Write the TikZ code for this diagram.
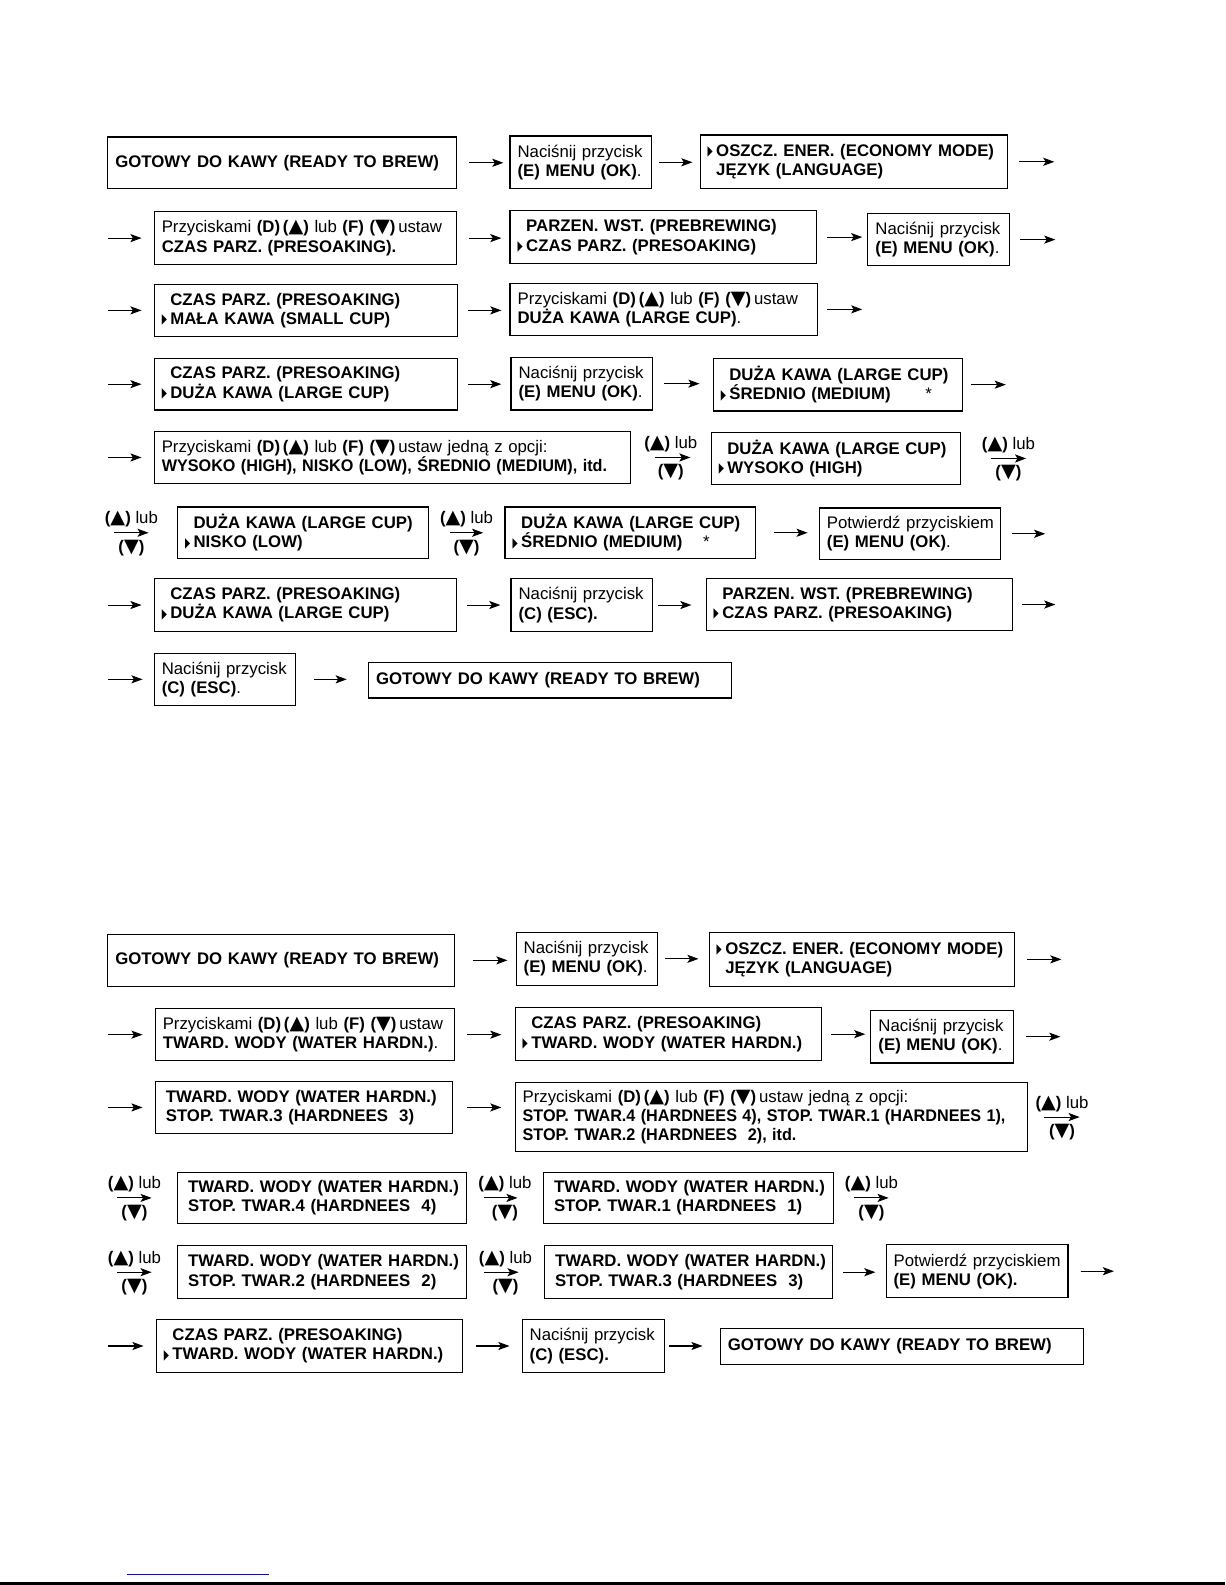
\documentclass[tikz,border=0pt]{standalone}
\usepackage{fontspec}
\setmainfont{Liberation Sans}
\newfontfamily\symf{DejaVu Sans}
\usetikzlibrary{arrows.meta,calc}
\newcommand\myfs{\fontsize{16.6}{19}\selectfont}
\newcommand\myup{{\symf\fontsize{19}{19}\selectfont ▲}}
\newcommand\mydn{{\symf\fontsize{19}{19}\selectfont ▼}}
\newcommand\mymk{\makebox[8.5pt][l]{\raisebox{0.6pt}{\scalebox{0.4}[0.82]{\symf ▶}}}}
\newcommand\mynm{\hspace*{8.5pt}}
\newcommand\mytw{\hspace*{3pt}}
\newcommand\ml[1]{\mbox{#1}}
\newcommand\myPrz{Przyciskami \textbf{(D)}\,\textbf{(\myup)} lub \textbf{(F)} \textbf{(\mydn)}\,ustaw}
\newcommand\Bx[6]{\pgfmathsetmacro\bw{#4-#2-15}\pgfmathsetmacro\bh{#5-#3}%
  \node[bx, text width=\bw pt, minimum height=\bh pt] (#1) at (#2,#3) {#6};}
\newcommand\Ar[4]{\draw[arr, shorten <=#3pt, shorten >=#4pt] (#1.east) -- (#1.east -| #2.west);}
\newcommand\Sa[3]{\draw[arr, shorten >=#3pt] (#1 |- #2.west) -- (#2.west);}
\newcommand\Ea[3]{\draw[arr, shorten <=#3pt] (#1.east) -- (#1.east -| #2);}
\tikzset{
  bx/.style={draw, line width=1.1pt, anchor=north west, inner xsep=7.5pt, inner ysep=0pt, align=left, font=\myfs},
  arr/.style={line width=1pt, -{Stealth[length=11pt,width=8pt,inset=2.5pt]}},
  lab/.style={font=\myfs, inner sep=0pt},
  lup/.style={midway, above=5pt, lab},
  ldn/.style={midway, below=6.5pt, lab}
}
\hbadness=10000 \hfuzz=100pt
\begin{document}
\begin{tikzpicture}[x=1pt,y=-1pt]
\fill[white] (0,0) rectangle (1212,1568);
\useasboundingbox (0,0) rectangle (1212,1568);
% ---------- start / end coordinates ----------
\coordinate (sx) at (107,0);
\coordinate (e1) at (1043,0);
\coordinate (e2) at (1044,0);
\coordinate (e3) at (853,0);
\coordinate (e4) at (995,0);
\coordinate (e6) at (1034,0);
\coordinate (e7) at (1044,0);
\coordinate (f1) at (1050,0);
\coordinate (f2) at (1049,0);
\coordinate (f5) at (1102,0);
% ================= TOP SECTION =================
% row 1
\Bx{b1}{106}{135}{451}{186}{\ml{\textbf{GOTOWY DO KAWY (READY TO BREW)}}}
\Bx{b2}{504}{134}{644}{186}{\ml{Naciśnij przycisk}\\\ml{\textbf{(E) MENU (OK)}.}}
\Bx{b3}{692}{133}{996}{186}{\ml{\mymk\textbf{OSZCZ. ENER. (ECONOMY MODE)}}\\\ml{\mynm\textbf{JĘZYK (LANGUAGE)}}}
\Ar{b1}{b2}{12}{6}
\Ar{b2}{b3}{7}{7}
\Ea{b3}{e1}{11}
% row 2
\Bx{b4}{152}{209}{451}{261}{\ml{\myPrz}\\\ml{\textbf{CZAS PARZ. (PRESOAKING).}}}
\Bx{b5}{504}{208}{807}{260}{\ml{\mynm\textbf{PARZEN. WST. (PREBREWING)}}\\\ml{\mymk\textbf{CZAS PARZ. (PRESOAKING)}}}
\Bx{b6}{858}{211}{998}{262}{\ml{Naciśnij przycisk}\\\ml{\textbf{(E) MENU (OK)}.}}
\Sa{sx}{b4}{12}
\Ar{b4}{b5}{12}{8}
\Ar{b5}{b6}{10}{5}
\Ea{b6}{e2}{10}
% row 3
\Bx{b7}{152}{281}{452}{332}{\ml{\mynm\textbf{CZAS PARZ. (PRESOAKING)}}\\\ml{\mymk\textbf{MAŁA KAWA (SMALL CUP)}}}
\Bx{b8}{504}{280}{808}{331}{\ml{\myPrz}\\\ml{\textbf{DUŻA KAWA (LARGE CUP)}.}}
\Sa{sx}{b7}{12}
\Ar{b7}{b8}{10}{8}
\Ea{b8}{e3}{9}
% row 4
\Bx{b9}{152}{354}{452}{405}{\ml{\mynm\textbf{CZAS PARZ. (PRESOAKING)}}\\\ml{\mymk\textbf{DUŻA KAWA (LARGE CUP)}}}
\Bx{b10}{505}{353}{645}{405}{\ml{Naciśnij przycisk}\\\ml{\textbf{(E) MENU (OK)}.}}
\Bx{b11}{705}{354}{952}{406}{\ml{\mynm\textbf{DUŻA KAWA (LARGE CUP)}}\\\ml{\mymk\makebox[194pt][l]{\textbf{ŚREDNIO (MEDIUM)}}*}}
\Sa{sx}{b9}{12}
\Ar{b9}{b10}{10}{9}
\Ar{b10}{b11}{11}{13}
\Ea{b11}{e4}{7}
% row 5
\Bx{b12}{152}{426}{623}{478}{\ml{\myPrz\ jedną z opcji:}\\\ml{\scalebox{0.965}[1]{\textbf{WYSOKO (HIGH), NISKO (LOW), ŚREDNIO (MEDIUM), itd.}}}}
\Bx{b13}{703}{427}{950}{479}{\ml{\mynm\textbf{DUŻA KAWA (LARGE CUP)}}\\\ml{\mymk\textbf{WYSOKO (HIGH)}}}
\Sa{sx}{b12}{12}
\draw[arr, shorten <=24pt, shorten >=20pt] (b12.east) -- (b12.east -| b13.west)
  node[lup]{\textbf{(\myup)} lub} node[ldn]{\textbf{(\mydn)}};
\draw[arr] ($(b13.east)+(29,0)$) -- ($(b13.east)+(64,0)$)
  node[lup]{\textbf{(\myup)} lub} node[ldn]{\textbf{(\mydn)}};
% row 6
\Bx{b14}{175}{501}{423}{552}{\ml{\mynm\textbf{DUŻA KAWA (LARGE CUP)}}\\\ml{\mymk\textbf{NISKO (LOW)}}}
\Bx{b15}{499}{501}{747}{552}{\ml{\mynm\textbf{DUŻA KAWA (LARGE CUP)}}\\\ml{\mymk\makebox[180pt][l]{\textbf{ŚREDNIO (MEDIUM)}}*}}
\Bx{b16}{810}{502}{989}{553}{\ml{Potwierdź przyciskiem}\\\ml{\textbf{(E) MENU (OK)}.}}
\draw[arr] ($(b14.west)+(-62,0)$) -- ($(b14.west)+(-28,0)$)
  node[lup]{\textbf{(\myup)} lub} node[ldn]{\textbf{(\mydn)}};
\draw[arr, shorten <=21pt, shorten >=21pt] (b14.east) -- (b14.east -| b15.west)
  node[lup]{\textbf{(\myup)} lub} node[ldn]{\textbf{(\mydn)}};
\Ar{b15}{b16}{18}{11}
\Ea{b16}{e6}{11}
% row 7
\Bx{b17}{152}{572}{451}{624}{\ml{\mynm\textbf{CZAS PARZ. (PRESOAKING)}}\\\ml{\mymk\textbf{DUŻA KAWA (LARGE CUP)}}}
\Bx{b18}{505}{572}{645}{624}{\ml{Naciśnij przycisk}\\\ml{\textbf{(C) (ESC).}}}
\Bx{b19}{698}{572}{1001}{623}{\ml{\mynm\textbf{PARZEN. WST. (PREBREWING)}}\\\ml{\mymk\textbf{CZAS PARZ. (PRESOAKING)}}}
\Sa{sx}{b17}{12}
\Ar{b17}{b18}{10}{10}
\Ar{b18}{b19}{5}{14}
\Ea{b19}{e7}{9}
% row 8
\Bx{b20}{152}{646}{292}{697}{\ml{Naciśnij przycisk}\\\ml{\textbf{(C) (ESC)}.}}
\Bx{b21}{364}{655}{723}{690}{\ml{\textbf{GOTOWY DO KAWY (READY TO BREW)}}}
\Sa{sx}{b20}{11}
\Ar{b20}{b21}{18}{21}
% ================= BOTTOM SECTION =================
% row 1
\Bx{c1}{106}{924}{449}{975}{\ml{\textbf{GOTOWY DO KAWY (READY TO BREW)}}}
\Bx{c2}{510}{922}{650}{974}{\ml{Naciśnij przycisk}\\\ml{\textbf{(E) MENU (OK)}.}}
\Bx{c3}{701}{922}{1003}{975}{\ml{\mymk\textbf{OSZCZ. ENER. (ECONOMY MODE)}}\\\ml{\mynm\textbf{JĘZYK (LANGUAGE)}}}
\Ar{c1}{c2}{18}{8}
\Ar{c2}{c3}{7}{10}
\Ea{c3}{f1}{12}
% row 2
\Bx{c4}{153}{997}{449}{1049}{\ml{\myPrz}\\\ml{\textbf{TWARD. WODY (WATER HARDN.)}.}}
\Bx{c5}{509}{996}{812}{1049}{\ml{\mynm\textbf{CZAS PARZ. (PRESOAKING)}}\\\ml{\mymk\textbf{TWARD. WODY (WATER HARDN.)}}}
\Bx{c6}{861}{999}{1002}{1051}{\ml{Naciśnij przycisk}\\\ml{\textbf{(E) MENU (OK)}.}}
\Sa{sx}{c4}{12}
\Ar{c4}{c5}{12}{13}
\Ar{c5}{c6}{9}{5}
\Ea{c6}{f2}{12}
% row 3
\Bx{c7}{153}{1069}{447}{1121}{\ml{\mytw\textbf{TWARD. WODY (WATER HARDN.)}}\\\ml{\mytw\textbf{STOP. TWAR.3 (HARDNEES\ \ 3)}}}
\Bx{c8}{509}{1070}{1016}{1139}{\ml{\myPrz\ jedną z opcji:}\\\ml{\scalebox{0.965}[1]{\textbf{STOP. TWAR.4 (HARDNEES 4), STOP. TWAR.1 (HARDNEES 1),}}}\\\ml{\scalebox{0.965}[1]{\textbf{STOP. TWAR.2 (HARDNEES\ \ 2), itd.}}}}
\Sa{sx}{c7}{12}
\Ar{c7}{c8}{14}{13}
\draw[arr] ($(c8.east)+(16,0)$) -- ($(c8.east)+(51,0)$)
  node[lup]{\textbf{(\myup)} lub} node[ldn]{\textbf{(\mydn)}};
% row 4
\Bx{c9}{175}{1159}{461}{1210}{\ml{\mytw\textbf{TWARD. WODY (WATER HARDN.)}}\\\ml{\mytw\textbf{STOP. TWAR.4 (HARDNEES\ \ 4)}}}
\Bx{c10}{537}{1159}{824}{1210}{\ml{\mytw\textbf{TWARD. WODY (WATER HARDN.)}}\\\ml{\mytw\textbf{STOP. TWAR.1 (HARDNEES\ \ 1)}}}
\draw[arr] ($(c9.west)+(-59,0)$) -- ($(c9.west)+(-25,0)$)
  node[lup]{\textbf{(\myup)} lub} node[ldn]{\textbf{(\mydn)}};
\draw[arr, shorten <=17pt, shorten >=25pt] (c9.east) -- (c9.east -| c10.west)
  node[lup]{\textbf{(\myup)} lub} node[ldn]{\textbf{(\mydn)}};
\draw[arr] ($(c10.east)+(20,0)$) -- ($(c10.east)+(54,0)$)
  node[lup]{\textbf{(\myup)} lub} node[ldn]{\textbf{(\mydn)}};
% row 5
\Bx{c11}{175}{1232}{461}{1284}{\ml{\mytw\textbf{TWARD. WODY (WATER HARDN.)}}\\\ml{\mytw\textbf{STOP. TWAR.2 (HARDNEES\ \ 2)}}}
\Bx{c12}{538}{1232}{823}{1284}{\ml{\mytw\textbf{TWARD. WODY (WATER HARDN.)}}\\\ml{\mytw\textbf{STOP. TWAR.3 (HARDNEES\ \ 3)}}}
\Bx{c13}{876}{1231}{1056}{1283}{\ml{Potwierdź przyciskiem}\\\ml{\textbf{(E) MENU (OK).}}}
\draw[arr] ($(c11.west)+(-59,0)$) -- ($(c11.west)+(-25,0)$)
  node[lup]{\textbf{(\myup)} lub} node[ldn]{\textbf{(\mydn)}};
\draw[arr, shorten <=17pt, shorten >=25pt] (c11.east) -- (c11.east -| c12.west)
  node[lup]{\textbf{(\myup)} lub} node[ldn]{\textbf{(\mydn)}};
\Ar{c12}{c13}{10}{10}
\Ea{c13}{f5}{12}
% row 6
\Bx{c14}{154}{1305}{457}{1357}{\ml{\mynm\textbf{CZAS PARZ. (PRESOAKING)}}\\\ml{\mymk\textbf{TWARD. WODY (WATER HARDN.)}}}
\Bx{c15}{516}{1305}{657}{1357}{\ml{Naciśnij przycisk}\\\ml{\textbf{(C) (ESC).}}}
\Bx{c16}{712}{1314}{1071}{1349}{\ml{\textbf{GOTOWY DO KAWY (READY TO BREW)}}}
\Sa{sx}{c14}{12}
\Ar{c14}{c15}{13}{12}
\Ar{c15}{c16}{4}{17}
% ---------- page rules ----------
\draw[blue, line width=1pt] (126,1558) -- (266,1558);
\draw[black, line width=2pt] (0,1566.5) -- (1212,1566.5);
\end{tikzpicture}
\end{document}
